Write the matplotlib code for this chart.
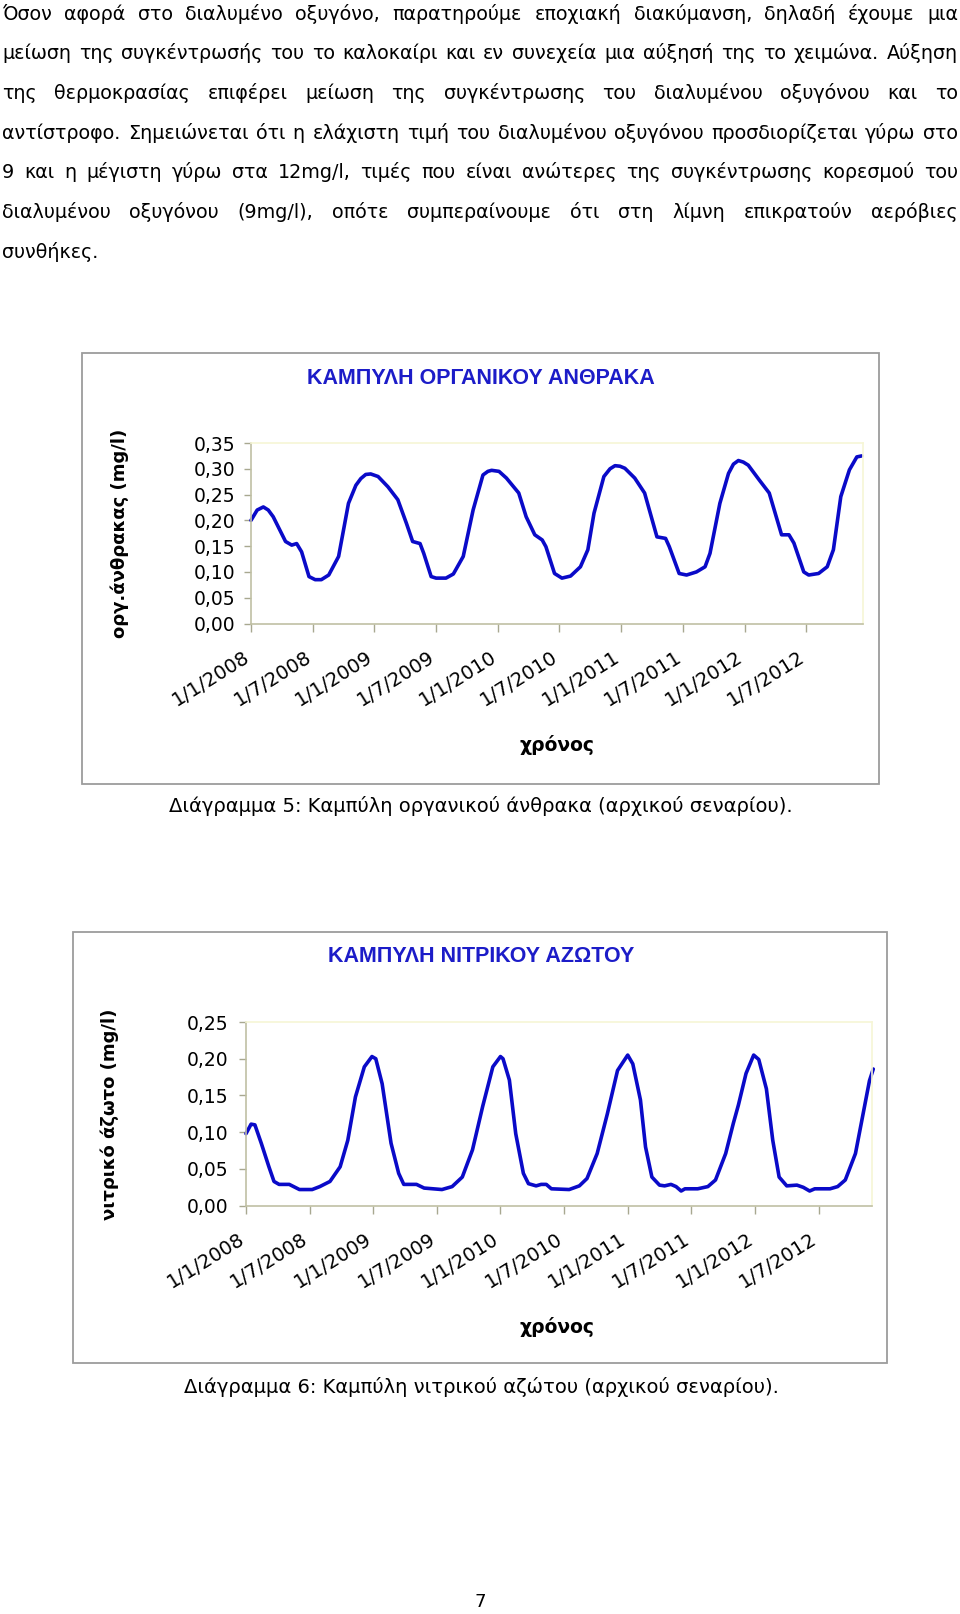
import numpy as np
import matplotlib
matplotlib.use('Agg')
import matplotlib.pyplot as plt
from matplotlib.patches import Rectangle
from matplotlib.ticker import FuncFormatter
from matplotlib.transforms import ScaledTranslation

plt.rcParams['font.family'] = ['DejaVu Sans']

W, H = 960, 1614

paragraph = [
    "Όσον αφορά στο διαλυμένο οξυγόνο, παρατηρούμε εποχιακή διακύμανση, δηλαδή έχουμε μια",
    "μείωση της συγκέντρωσής του το καλοκαίρι και εν συνεχεία μια αύξησή της το χειμώνα. Αύξηση",
    "της θερμοκρασίας επιφέρει μείωση της συγκέντρωσης του διαλυμένου οξυγόνου και το",
    "αντίστροφο. Σημειώνεται ότι η ελάχιστη τιμή του διαλυμένου οξυγόνου προσδιορίζεται γύρω στο",
    "9 και η μέγιστη γύρω στα 12mg/l, τιμές που είναι ανώτερες της συγκέντρωσης κορεσμού του",
    "διαλυμένου οξυγόνου (9mg/l), οπότε συμπεραίνουμε ότι στη λίμνη επικρατούν αερόβιες",
    "συνθήκες.",
]

# x axis: years since 1/1/2008, labelled every half year
tick_pos = [0, 0.5, 1, 1.5, 2, 2.5, 3, 3.5, 4, 4.5]
tick_labels = ['1/1/2008', '1/7/2008', '1/1/2009', '1/7/2009', '1/1/2010',
               '1/7/2010', '1/1/2011', '1/7/2011', '1/1/2012', '1/7/2012']

# organic carbon (mg/l)
carbon_t = [0.00, 0.05, 0.10, 0.14, 0.18, 0.28, 0.33, 0.37, 0.41, 0.47, 0.52, 0.57,
            0.63, 0.71, 0.79, 0.85, 0.89, 0.93, 0.97, 1.03, 1.11, 1.19, 1.26, 1.31,
            1.37, 1.40, 1.46, 1.50, 1.58, 1.64, 1.72, 1.80, 1.88, 1.92, 1.95,
            2.01, 2.07, 2.17, 2.23, 2.30, 2.36, 2.39, 2.46, 2.52, 2.59,
            2.67, 2.73, 2.78, 2.86, 2.91, 2.95, 2.99, 3.03, 3.11, 3.19, 3.29, 3.36,
            3.39, 3.47, 3.53, 3.61, 3.68, 3.72, 3.80, 3.87, 3.91, 3.95, 3.99, 4.03,
            4.12, 4.20, 4.30, 4.36, 4.40, 4.48, 4.52, 4.60, 4.67, 4.72,
            4.78, 4.85, 4.91, 4.95]
carbon_val = [0.200, 0.220, 0.226, 0.220, 0.207, 0.159, 0.152, 0.155, 0.139, 0.091, 0.085, 0.085,
              0.094, 0.130, 0.233, 0.268, 0.281, 0.289, 0.290, 0.285, 0.265, 0.240, 0.194, 0.159,
              0.155, 0.136, 0.091, 0.088, 0.088, 0.096, 0.130, 0.220, 0.288, 0.295, 0.297,
              0.295, 0.282, 0.253, 0.207, 0.172, 0.162, 0.149, 0.097, 0.088, 0.092,
              0.110, 0.143, 0.214, 0.285, 0.300, 0.306, 0.305, 0.301, 0.282, 0.253, 0.168, 0.165,
              0.149, 0.097, 0.094, 0.100, 0.110, 0.136, 0.233, 0.291, 0.309, 0.316, 0.313, 0.307,
              0.278, 0.253, 0.172, 0.172, 0.156, 0.100, 0.094, 0.097, 0.110, 0.143,
              0.246, 0.298, 0.323, 0.325]

# nitrate nitrogen (mg/l)
nitrate_t = [0.00, 0.04, 0.07, 0.12, 0.18, 0.22, 0.26, 0.34, 0.42, 0.52,
             0.58, 0.66, 0.74, 0.80, 0.86, 0.93, 0.99, 1.02, 1.07, 1.14,
             1.20, 1.24, 1.30, 1.34, 1.40, 1.54, 1.62, 1.70, 1.78, 1.86,
             1.94, 2.00, 2.02, 2.07, 2.12, 2.18, 2.22, 2.28, 2.32, 2.36,
             2.40, 2.54, 2.62, 2.68, 2.76, 2.84, 2.92, 3.00, 3.04, 3.10,
             3.14, 3.19, 3.25, 3.29, 3.34, 3.38, 3.42, 3.45, 3.55, 3.63,
             3.69, 3.77, 3.83, 3.87, 3.93, 3.99, 4.03, 4.09, 4.14, 4.19,
             4.25, 4.33, 4.38, 4.43, 4.47, 4.59, 4.65, 4.71, 4.79, 4.85,
             4.90, 4.93]
nitrate_val = [0.098, 0.111, 0.110, 0.085, 0.053, 0.033, 0.029, 0.029, 0.022, 0.022,
               0.026, 0.033, 0.053, 0.089, 0.148, 0.189, 0.203, 0.200, 0.166, 0.085,
               0.044, 0.029, 0.029, 0.029, 0.024, 0.022, 0.026, 0.039, 0.076, 0.135,
               0.189, 0.203, 0.200, 0.171, 0.098, 0.044, 0.030, 0.027, 0.029, 0.029,
               0.023, 0.022, 0.027, 0.037, 0.071, 0.125, 0.184, 0.205, 0.193, 0.144,
               0.080, 0.039, 0.028, 0.027, 0.029, 0.026, 0.020, 0.023, 0.023, 0.026,
               0.035, 0.071, 0.112, 0.137, 0.180, 0.205, 0.199, 0.159, 0.089, 0.039,
               0.027, 0.028, 0.025, 0.020, 0.023, 0.023, 0.026, 0.035, 0.071, 0.125,
               0.170, 0.186]

fig = plt.figure(figsize=(W / 100, H / 100), dpi=100)
fig.patch.set_facecolor('white')
renderer = fig.canvas.get_renderer()


def fx(x):
    return x / W


def fy(y):
    return 1 - y / H


# justified paragraph, placed word by word; font size fitted to the longest line
left, right = 2, 958
probe = fig.text(0, 0, '', fontsize=13)
longest = 0
for line in paragraph:
    probe.set_text(line)
    longest = max(longest, probe.get_window_extent(renderer).width)
probe.remove()
size = min(15, 13 * (right - left) * 0.985 / longest)

for i, line in enumerate(paragraph):
    base = 19.5 + 39.7 * i
    words = line.split(' ')
    texts = [fig.text(0, fy(base), w, fontsize=size, va='baseline', ha='left')
             for w in words]
    widths = [t.get_window_extent(renderer).width for t in texts]
    if i < len(paragraph) - 1 and len(words) > 1:
        gap = (right - left - sum(widths)) / (len(words) - 1)
    else:
        gap = size * 0.318 * 100 / 72
    x = left
    for t, w in zip(texts, widths):
        t.set_x(fx(x))
        x += w + gap


def chart(frame, box, t, v, ymax, xmax, title, title_y, ylabel, ylabel_x,
          xlabel_y, caption, caption_y, ypad):
    fl, ft, fr, fb = frame
    fig.add_artist(Rectangle((fx(fl), fy(fb)), (fr - fl) / W, (fb - ft) / H,
                             transform=fig.transFigure, fill=False,
                             edgecolor='#9c9c9c', lw=1.3))
    l, tp, r, b = box
    ax = fig.add_axes([fx(l), fy(b), (r - l) / W, (b - tp) / H])
    ax.plot(t, v, color='#0a0ac8', lw=2.6, solid_joinstyle='round',
            solid_capstyle='round', clip_on=False)
    ax.set_xlim(0, xmax)
    ax.set_ylim(0, ymax)
    ax.set_yticks(np.arange(0, ymax + 1e-9, 0.05))
    ax.yaxis.set_major_formatter(FuncFormatter(lambda y, _: f'{y:.2f}'.replace('.', ',')))
    ax.set_xticks(tick_pos)
    ax.set_xticklabels(tick_labels, rotation=32, ha='right', va='top',
                       rotation_mode='anchor')
    ax.tick_params(axis='both', direction='out', length=5, width=1,
                   color='#a8a890', labelsize=13.5)
    ax.tick_params(axis='y', pad=ypad)
    ax.tick_params(axis='x', pad=11, length=6, labelsize=14)
    shift = ScaledTranslation(-6 / 72, 0, fig.dpi_scale_trans)
    for lab in ax.get_xticklabels():
        lab.set_transform(lab.get_transform() + shift)
    for s in ['left', 'bottom']:
        ax.spines[s].set_color('#c0c0a4')
        ax.spines[s].set_linewidth(1.2)
    for s in ['top', 'right']:
        ax.spines[s].set_color('#f6f6d6')
        ax.spines[s].set_linewidth(1.2)
    fig.text(fx(481), fy(title_y), title, ha='center', va='center',
             fontsize=15.5, fontweight='bold', color='#1c1cc8',
             family='Liberation Sans')
    fig.text(fx(ylabel_x), fy((tp + b) / 2), ylabel, rotation=90,
             ha='center', va='center', fontsize=13, fontweight='bold')
    fig.text(fx(557), fy(xlabel_y), 'χρόνος', ha='center', va='center',
             fontsize=13.5, fontweight='bold')
    fig.text(fx(481), fy(caption_y), caption, ha='center', va='center',
             fontsize=14)
    return ax


chart((82, 353, 879, 784), (251, 443, 863, 623.5), carbon_t, carbon_val,
      0.35, 4.96, 'ΚΑΜΠΥΛΗ ΟΡΓΑΝΙΚΟΥ ΑΝΘΡΑΚΑ', 378,
      'οργ.άνθρακας (mg/l)', 120, 745,
      'Διάγραμμα 5: Καμπύλη οργανικού άνθρακα (αρχικού σεναρίου).', 806, 6)

chart((73, 932, 887, 1363), (246, 1022, 872, 1205.7), nitrate_t, nitrate_val,
      0.25, 4.92, 'ΚΑΜΠΥΛΗ ΝΙΤΡΙΚΟΥ ΑΖΩΤΟΥ', 957,
      'νιτρικό άζωτο (mg/l)', 110, 1327,
      'Διάγραμμα 6: Καμπύλη νιτρικού αζώτου (αρχικού σεναρίου).', 1387, 8)

fig.text(fx(480), fy(1602), '7', ha='center', va='center', fontsize=13)

fig.savefig('out.png', dpi=100, facecolor='white')
